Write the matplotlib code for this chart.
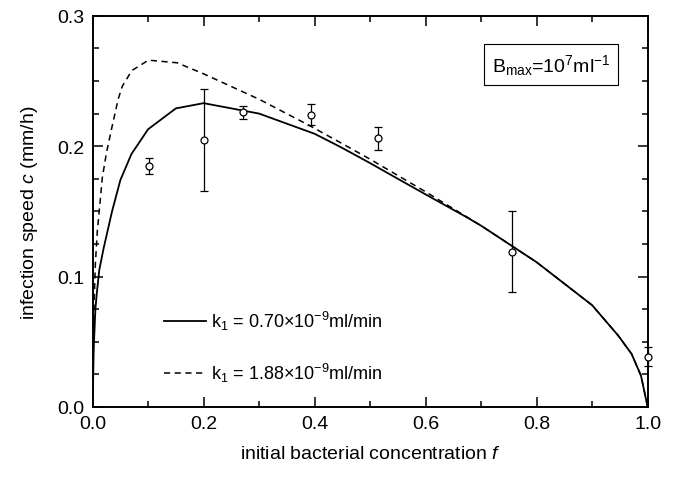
import numpy as np
import matplotlib.pyplot as plt
from matplotlib.ticker import MultipleLocator

plt.rcParams['font.family'] = ['Liberation Sans', 'DejaVu Sans']
plt.rcParams['mathtext.fontset'] = 'custom'
plt.rcParams['mathtext.rm'] = 'Liberation Sans'
plt.rcParams['mathtext.it'] = 'Liberation Sans:italic'

# model curve, k1 = 0.70e-9
f_solid = [0, 0.002, 0.005, 0.0075, 0.012, 0.02, 0.035, 0.05, 0.07, 0.1, 0.15, 0.2,
           0.3, 0.4, 0.447, 0.5, 0.554, 0.6, 0.674, 0.7, 0.75, 0.8, 0.9, 0.947,
           0.971, 0.988, 1.0]
c_solid = [0, 0.045, 0.075, 0.087, 0.105, 0.122, 0.15, 0.174, 0.194, 0.213, 0.229, 0.233,
           0.225, 0.2095, 0.1993, 0.187, 0.174, 0.163, 0.1455, 0.139, 0.125, 0.111, 0.078, 0.0547,
           0.0407, 0.024, 0.0]

# model curve, k1 = 1.88e-9
f_dash = [0, 0.002, 0.005, 0.0085, 0.0123, 0.0175, 0.025, 0.034, 0.046, 0.0535, 0.0706,
          0.1006, 0.152, 0.2, 0.3, 0.39, 0.447, 0.5, 0.6, 0.7, 0.75, 0.8, 0.9, 0.947,
          0.971, 0.988, 1.0]
c_dash = [0, 0.07, 0.11, 0.135, 0.152, 0.176, 0.195, 0.213, 0.236, 0.246, 0.258,
          0.266, 0.264, 0.2555, 0.236, 0.216, 0.2026, 0.19, 0.165, 0.139, 0.125, 0.111, 0.078, 0.0547,
          0.0407, 0.024, 0.0]

# experimental points
f_exp = [0.102, 0.2, 0.271, 0.393, 0.515, 0.756, 1.0]
c_exp = [0.185, 0.205, 0.226, 0.224, 0.206, 0.119, 0.0386]
c_lo = [0.179, 0.1655, 0.221, 0.216, 0.197, 0.088, 0.0317]
c_hi = [0.191, 0.244, 0.231, 0.232, 0.215, 0.150, 0.0458]

fig = plt.figure(figsize=(6.81, 4.81), dpi=100)
ax = fig.add_axes([0.136, 0.152, 0.815, 0.813])

ax.plot(f_solid, c_solid, color='black', lw=1.3, label=r'k$_1$ = 0.70$\times$10$^{-9}$ml/min')
ax.plot(f_dash, c_dash, color='black', lw=1.1, ls=(0, (4, 3)), label=r'k$_1$ = 1.88$\times$10$^{-9}$ml/min')

yerr = [np.array(c_exp) - np.array(c_lo), np.array(c_hi) - np.array(c_exp)]
ax.errorbar(f_exp, c_exp, yerr=yerr, fmt='o', mfc='white', mec='black', ms=5,
            mew=0.9, ecolor='black', elinewidth=0.9, capsize=3, capthick=0.9,
            clip_on=False, zorder=5)

ax.set_xlim(0, 1.0)
ax.set_ylim(0, 0.3)
ax.xaxis.set_major_locator(MultipleLocator(0.2))
ax.xaxis.set_minor_locator(MultipleLocator(0.1))
ax.yaxis.set_major_locator(MultipleLocator(0.1))
ax.yaxis.set_minor_locator(MultipleLocator(0.025))
ax.xaxis.set_major_formatter(plt.FormatStrFormatter('%.1f'))
ax.yaxis.set_major_formatter(plt.FormatStrFormatter('%.1f'))
ax.tick_params(which='both', direction='in', top=True, right=True, width=1.1, labelsize=14, pad=6)
ax.tick_params(which='major', length=7)
ax.tick_params(which='minor', length=4)
for s in ax.spines.values():
    s.set_linewidth(1.4)

ax.set_xlabel(r'initial bacterial concentration $f$', fontsize=14, labelpad=9)
ax.set_ylabel(r'infection speed $c$ (mm/h)', fontsize=14, labelpad=12)

ax.legend(loc='lower left', bbox_to_anchor=(0.116, 0.04), frameon=False, fontsize=13,
          handlelength=2.3, handletextpad=0.3, labelspacing=1.6, borderaxespad=0)

ax.text(0.826, 0.875, r'B$_{\mathrm{max}}$=10$^7$ml$^{-1}$', transform=ax.transAxes,
        ha='center', va='center', fontsize=14,
        bbox=dict(boxstyle='square,pad=0.4', fc='white', ec='black', lw=0.8))

plt.savefig('out.png', dpi=100)
